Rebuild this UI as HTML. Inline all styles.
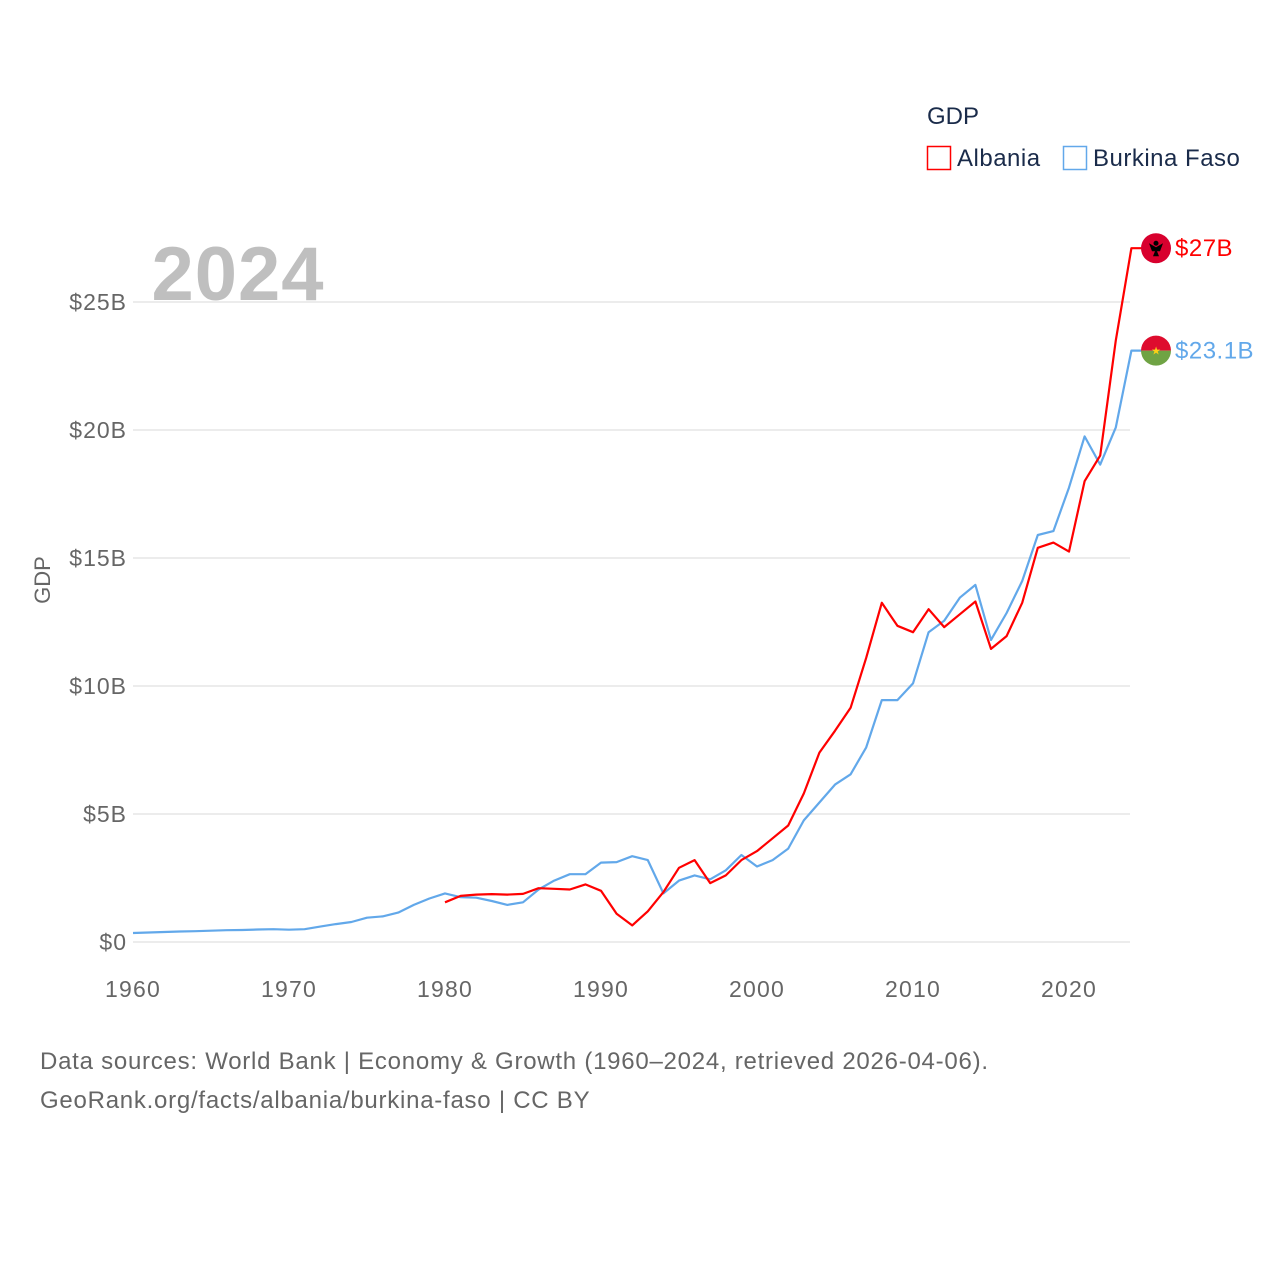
<!DOCTYPE html>
<html><head><meta charset="utf-8"><style>
body{margin:0;background:#fff;font-family:"Liberation Sans",sans-serif}
svg text{font-family:"Liberation Sans",sans-serif}
</style></head><body>
<svg width="1280" height="1280" viewBox="0 0 1280 1280">
<g id="grid"></g>
<g id="yticks"></g>
<g id="xticks"></g>
<text x="238" y="300" font-size="76" font-weight="bold" fill="#bfbfbf" text-anchor="middle" letter-spacing="1">2024</text>
<text transform="translate(50,580) rotate(-90)" font-size="22" fill="#666" text-anchor="middle">GDP</text>
<g id="series"></g>
<g>
<text x="927" y="124" font-size="24" fill="#1a2b4a">GDP</text>
<g><rect x="927.5" y="146.5" width="23" height="23" fill="none" stroke="#ff0000" stroke-width="1.5"/><text x="957" y="166" font-size="24" fill="#1a2b4a" letter-spacing="0.5">Albania</text></g>
<g><rect x="1063.5" y="146.5" width="23" height="23" fill="none" stroke="#62a8ea" stroke-width="1.5"/><text x="1093" y="166" font-size="24" fill="#1a2b4a" letter-spacing="0.5">Burkina Faso</text></g>
</g>
<text x="40" y="1069" font-size="24" fill="#666" letter-spacing="0.75">Data sources: World Bank | Economy &amp; Growth (1960–2024, retrieved 2026-04-06).</text>
<text x="40" y="1108" font-size="24" fill="#666" letter-spacing="0.75">GeoRank.org/facts/albania/burkina-faso | CC BY</text>
</svg>
<script>
const yTicks=[0,5,10,15,20,25];
const yTickLabels=["$0","$5B","$10B","$15B","$20B","$25B"];
const xTicks=[1960,1970,1980,1990,2000,2010,2020];
const bfYears=[];for(let y=1960;y<=2024;y++)bfYears.push(y);
const bfValues=[0.35,0.37,0.39,0.41,0.42,0.44,0.46,0.47,0.49,0.5,0.48,0.5,0.6,0.7,0.78,0.95,1.0,1.15,1.45,1.7,1.9,1.75,1.73,1.6,1.45,1.55,2.05,2.4,2.65,2.65,3.1,3.12,3.35,3.2,1.9,2.4,2.6,2.45,2.8,3.4,2.95,3.2,3.65,4.75,5.45,6.15,6.55,7.6,9.45,9.45,10.1,12.1,12.55,13.45,13.95,11.8,12.85,14.1,15.9,16.05,17.75,19.75,18.65,20.1,23.1];
const alYears=[];for(let y=1980;y<=2024;y++)alYears.push(y);
const alValues=[1.55,1.8,1.85,1.87,1.85,1.88,2.1,2.08,2.05,2.25,2.0,1.1,0.65,1.2,1.95,2.9,3.2,2.3,2.6,3.2,3.55,4.05,4.55,5.8,7.4,8.25,9.15,11.1,13.25,12.35,12.1,13.0,12.3,12.8,13.3,11.45,11.95,13.25,15.4,15.6,15.25,18.0,19.0,23.5,27.1];
const endLabels=["$27B","$23.1B"];
const NS="http://www.w3.org/2000/svg";
const X=v=>133+(v-1960)*15.6;
const Y=v=>942-v*25.6;
function mk(t,a,p){const e=document.createElementNS(NS,t);for(const k in a)e.setAttribute(k,a[k]);p.appendChild(e);return e;}
const grid=document.getElementById('grid'),yt=document.getElementById('yticks'),xt=document.getElementById('xticks'),ser=document.getElementById('series');
yTicks.forEach((v,i)=>{
 const l=mk('line',{x1:133,x2:1130,y1:Y(v),y2:Y(v),stroke:'#e6e6e6','stroke-width':1.5},grid);
 
 
 const t=mk('text',{x:127,y:Y(v)+8,'font-size':23,fill:'#666','text-anchor':'end','letter-spacing':1},yt);
 t.textContent=yTickLabels[i];
 
 
});
xTicks.forEach(v=>{
 const t=mk('text',{x:X(v),y:997,'font-size':23,fill:'#666','text-anchor':'middle','letter-spacing':1.2},xt);
 t.textContent=v;
 
 
});
function line(years,vals,color,name){
 let d=years.map((y,i)=>(i?'L':'M')+X(y).toFixed(1)+','+Y(vals[i]).toFixed(1)).join('');
 const last=vals[vals.length-1];
 d+='L'+(X(2024)+10)+','+Y(last).toFixed(1);
 const p=mk('path',{d:d,fill:'none',stroke:color,'stroke-width':2.2,'stroke-linejoin':'round'},ser);
 
 
}
line(bfYears,bfValues,'#62a8ea','line-burkina-faso');
line(alYears,alValues,'#ff0000','line-albania');
const ay=Y(alValues[alValues.length-1]),by=Y(bfValues[bfValues.length-1]),fx=1156;
const fa=mk('g',{},ser);


mk('circle',{cx:fx,cy:ay,r:15,fill:'#d8002e'},fa);
mk('path',{d:`M${fx-7},${ay-5}L${fx},${ay-1}L${fx+7},${ay-5}L${fx+4},${ay+3}L${fx+1},${ay+3}L${fx+3},${ay+8}L${fx-3},${ay+8}L${fx-1},${ay+3}L${fx-4},${ay+3}Z`,fill:'#000'},fa);
mk('circle',{cx:fx,cy:ay-5,r:2.5,fill:'#000'},fa);
const fb=mk('g',{},ser);


mk('path',{d:`M${fx-15},${by}A15,15 0 0 1 ${fx+15},${by}Z`,fill:'#de0c2e'},fb);
mk('path',{d:`M${fx-15},${by}A15,15 0 0 0 ${fx+15},${by}Z`,fill:'#6fa344'},fb);
mk('text',{x:fx,y:by+4,'font-size':11,fill:'#fcd116','text-anchor':'middle'},fb).textContent='★';
const la=mk('text',{x:1175,y:ay+8,'font-size':24,fill:'#ff0000','letter-spacing':0.5},ser);
la.textContent=endLabels[0];


const lb=mk('text',{x:1175,y:by+8,'font-size':24,fill:'#62a8ea','letter-spacing':0.5},ser);
lb.textContent=endLabels[1];


</script>
</body></html>
